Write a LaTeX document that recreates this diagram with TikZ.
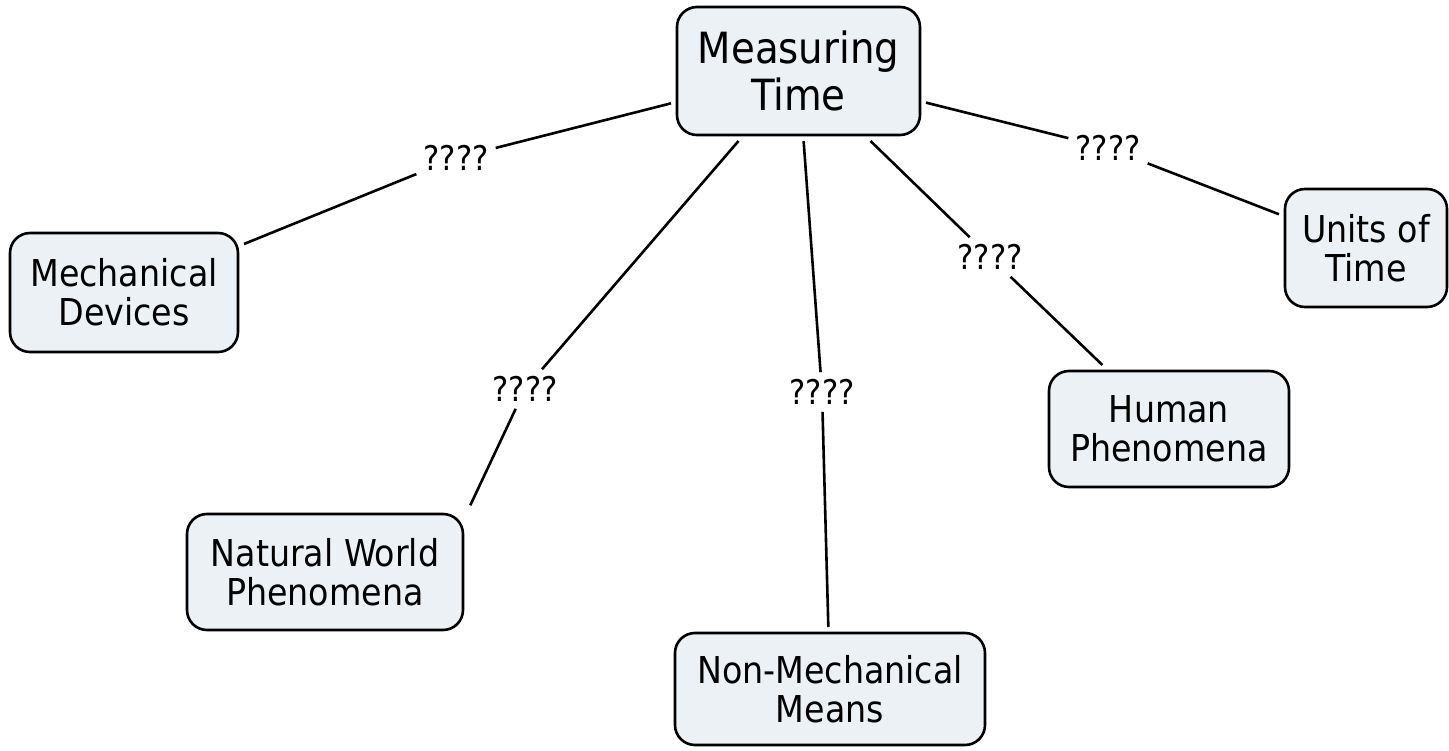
\documentclass[tikz,border=0pt]{standalone}
\usepackage{fontspec}
\setmainfont{DejaVu Sans Condensed}
\definecolor{boxfill}{RGB}{235,241,244}
\begin{document}
\begin{tikzpicture}[x=1pt,y=-1pt,
  concept/.style={draw=black, line width=2.6pt, fill=boxfill, rounded corners=20pt,
    align=center, inner sep=0pt, outer sep=6pt, font=\fontsize{37}{39}\selectfont},
  bigconcept/.style={concept, font=\fontsize{43}{47}\selectfont},
  link/.style={inner sep=7pt, font=\fontsize{34}{36}\selectfont},
  conn/.style={line width=2.6pt}]
\useasboundingbox (0,0) rectangle (1449,751);
% concepts
\node[bigconcept, minimum width=243pt, minimum height=128pt] (mt) at (798.5,71) {Measuring\\Time};
\node[concept, minimum width=228pt, minimum height=119pt] (md) at (124,292.5) {Mechanical\\Devices};
\node[concept, minimum width=162pt, minimum height=118pt] (ut) at (1366,248) {Units of\\Time};
\node[concept, minimum width=240pt, minimum height=116pt] (hp) at (1169,429) {Human\\Phenomena};
\node[concept, minimum width=276pt, minimum height=116pt] (nw) at (325,572) {Natural World\\Phenomena};
\node[concept, minimum width=310pt, minimum height=112pt] (nm) at (830,689) {Non-Mechanical\\Means};
% linking phrases
\node[link] (l1) at (456,158) {????};
\node[link] (l2) at (525,389) {????};
\node[link] (l3) at (822,392) {????};
\node[link] (l4) at (990,257) {????};
\node[link] (l5) at (1108,148) {????};
% connectors
\draw[conn] (mt) -- (l1); \draw[conn] (l1) -- (md);
\draw[conn] (mt) -- (l2); \draw[conn, shorten >=3pt] (l2) -- (nw.north east);
\draw[conn] (mt) -- (l3); \draw[conn] (l3) -- (nm);
\draw[conn] (mt) -- (l4); \draw[conn] (l4) -- (hp);
\draw[conn] (mt) -- (l5); \draw[conn] (l5) -- (ut);
\end{tikzpicture}
\end{document}
